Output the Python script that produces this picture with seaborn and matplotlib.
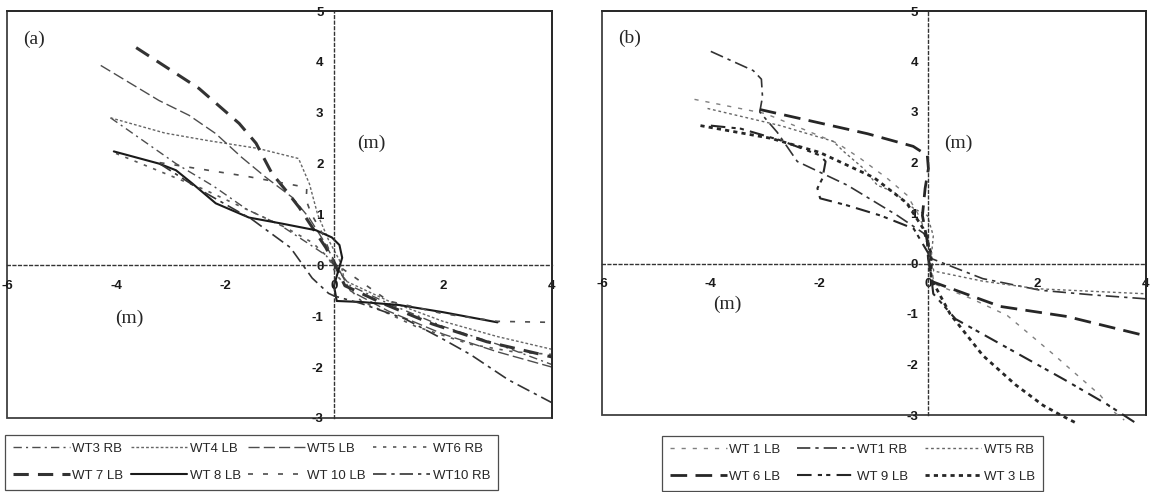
import matplotlib
matplotlib.use("Agg")
import matplotlib.pyplot as plt
import seaborn as sns

# ---- panel (a) profiles (m) ----
a_wt3rb_x = [-4.1, -3.5, -2.9, -2.2, -1.6, -1.0, -0.5, -0.15, 0.0, 0.3, 1.0, 2.0, 3.0, 4.0]
a_wt3rb_y = [2.9, 2.45, 2.0, 1.55, 1.1, 0.8, 0.45, 0.2, 0.0, -0.4, -0.75, -1.2, -1.55, -1.95]

a_wt4lb_x = [-4.1, -3.1, -2.3, -1.4, -0.65, -0.45, -0.3, -0.1, 0.1, 0.2, 1.0, 2.0, 3.0, 4.0]
a_wt4lb_y = [2.9, 2.6, 2.45, 2.3, 2.1, 1.6, 1.0, 0.5, 0.1, -0.3, -0.7, -1.1, -1.4, -1.65]

a_wt5lb_x = [-4.28, -3.21, -2.66, -2.17, -1.69, -1.25, -0.77, -0.46, -0.2, 0.0, 0.3, 1.0, 2.0, 3.0, 4.0]
a_wt5lb_y = [3.93, 3.24, 2.95, 2.59, 2.12, 1.73, 1.34, 0.94, 0.5, 0.1, -0.5, -0.9, -1.35, -1.7, -2.0]

a_wt6rb_x = [-4.0, -3.2, -2.4, -1.6, -0.9, -0.4, -0.1, 0.05, 0.5, 1.5, 2.5, 3.3, 4.0]
a_wt6rb_y = [2.2, 1.85, 1.5, 1.1, 0.75, 0.45, 0.15, -0.2, -0.7, -1.2, -1.55, -1.7, -1.75]

a_wt7lb_x = [-3.63, -2.48, -1.74, -1.43, -1.14, -0.88, -0.64, -0.4, -0.15, 0.0, 0.2, 0.9, 1.8, 2.8, 4.0]
a_wt7lb_y = [4.28, 3.48, 2.79, 2.4, 1.81, 1.47, 1.14, 0.75, 0.35, 0.05, -0.4, -0.75, -1.15, -1.5, -1.8]

a_wt8lb_x = [-4.04, -3.21, -2.9, -2.6, -2.17, -1.56, -0.95, -0.33, -0.04, 0.1, 0.15, 0.08, 0.0, 0.05, 0.5, 1.2, 2.0, 3.0]
a_wt8lb_y = [2.24, 2.0, 1.87, 1.61, 1.22, 0.94, 0.82, 0.69, 0.55, 0.4, 0.15, -0.1, -0.4, -0.7, -0.72, -0.78, -0.92, -1.12]

a_wt10lb_x = [-3.2, -1.6, -0.59, -0.5, -0.51, -0.42, -0.2, 0.0, 1.0, 2.0, 3.0, 4.0]
a_wt10lb_y = [2.02, 1.75, 1.55, 1.51, 1.28, 1.02, 0.6, 0.05, -0.7, -0.95, -1.1, -1.12]

a_wt10rb_x = [-3.2, -2.4, -1.5, -0.8, -0.6, -0.4, -0.1, 0.0, 0.5, 1.3, 2.0, 2.5, 3.2, 4.0]
a_wt10rb_y = [2.0, 1.45, 0.9, 0.35, 0.05, -0.25, -0.55, -0.6, -0.75, -1.05, -1.45, -1.75, -2.25, -2.7]

# ---- panel (b) profiles (m) ----
b_wt1lb_x = [-4.3, -3.0, -1.67, -1.25, -0.75, -0.39, -0.2, 0.0, 0.1, 0.8, 1.45, 2.3, 3.16, 3.4, 3.6]
b_wt1lb_y = [3.25, 2.97, 2.38, 2.08, 1.68, 1.35, 1.0, 0.5, -0.4, -0.7, -1.03, -1.8, -2.61, -2.93, -3.1]

b_wt1rb_x = [-4.0, -3.22, -3.07, -3.05, -3.1, -2.78, -2.41, -1.49, -0.57, -0.02, 0.05, 1.0, 2.06, 3.0, 4.0]
b_wt1rb_y = [4.2, 3.82, 3.65, 3.3, 3.0, 2.6, 2.02, 1.55, 0.95, 0.55, 0.1, -0.3, -0.53, -0.62, -0.7]

b_wt5rb_x = [-4.06, -2.72, -1.75, -1.56, -1.19, -0.94, -0.64, -0.27, -0.02, 0.09, 0.05, 0.1, 1.0, 2.0, 3.0, 4.0]
b_wt5rb_y = [3.07, 2.73, 2.42, 2.22, 1.88, 1.55, 1.42, 1.09, 0.95, 0.55, 0.1, -0.15, -0.35, -0.5, -0.55, -0.6]

b_wt6lb_x = [-3.1, -2.11, -1.12, -0.28, -0.02, 0.0, -0.06, -0.11, -0.02, 0.0, 0.07, 1.32, 2.55, 3.95]
b_wt6lb_y = [3.05, 2.81, 2.57, 2.32, 2.14, 1.88, 1.49, 0.95, 0.44, 0.1, -0.36, -0.85, -1.05, -1.42]

b_wt9lb_x = [-4.0, -3.45, -2.72, -1.99, -1.89, -1.95, -2.04, -1.99, -1.49, -0.88, -0.27, 0.0, 0.09, 0.5, 1.5, 2.5, 3.3, 3.8]
b_wt9lb_y = [2.73, 2.67, 2.44, 2.14, 2.02, 1.68, 1.49, 1.29, 1.15, 0.95, 0.69, 0.2, -0.6, -1.1, -1.7, -2.3, -2.8, -3.15]

b_wt3lb_x = [-4.19, -2.9, -2.0, -1.0, -0.4, -0.1, 0.05, 0.05, 0.4, 1.0, 1.6, 2.11, 2.43, 2.7]
b_wt3lb_y = [2.73, 2.48, 2.2, 1.7, 1.2, 0.7, 0.2, -0.3, -1.0, -1.82, -2.4, -2.81, -3.0, -3.15]

panel_a = [
    ("WT3 RB", a_wt3rb_x, a_wt3rb_y, (0, (6, 3, 1.5, 3)), 1.0, "0.3"),
    ("WT4 LB", a_wt4lb_x, a_wt4lb_y, (0, (2, 1.5)), 1.0, "0.4"),
    ("WT5 LB", a_wt5lb_x, a_wt5lb_y, (0, (8, 3)), 1.0, "0.3"),
    ("WT6 RB", a_wt6rb_x, a_wt6rb_y, (0, (2, 4)), 1.2, "0.35"),
    ("WT 7 LB", a_wt7lb_x, a_wt7lb_y, (0, (5, 3)), 2.2, "0.2"),
    ("WT 8 LB", a_wt8lb_x, a_wt8lb_y, "-", 1.5, "0.1"),
    ("WT 10 LB", a_wt10lb_x, a_wt10lb_y, (0, (3, 6)), 1.2, "0.3"),
    ("WT10 RB", a_wt10rb_x, a_wt10rb_y, (0, (8, 3, 2, 3)), 1.2, "0.2"),
]
panel_b = [
    ("WT 1 LB", b_wt1lb_x, b_wt1lb_y, (0, (3, 5)), 1.0, "0.5"),
    ("WT1 RB", b_wt1rb_x, b_wt1rb_y, (0, (8, 3, 2, 3)), 1.2, "0.2"),
    ("WT5 RB", b_wt5rb_x, b_wt5rb_y, (0, (2, 2)), 1.0, "0.4"),
    ("WT 6 LB", b_wt6lb_x, b_wt6lb_y, (0, (6, 3)), 2.0, "0.15"),
    ("WT 9 LB", b_wt9lb_x, b_wt9lb_y, (0, (7, 3, 2, 2, 2, 3)), 1.5, "0.15"),
    ("WT 3 LB", b_wt3lb_x, b_wt3lb_y, (0, (1.5, 1.5)), 2.0, "0.15"),
]

sns.set_style("white")
plt.rcParams["font.family"] = ["Liberation Sans", "DejaVu Sans"]
plt.rcParams["axes.unicode_minus"] = False

fig = plt.figure(figsize=(11.52, 4.92), dpi=100)
ax_a = fig.add_axes([7 / 1152, 1 - 418 / 492, 545 / 1152, 407 / 492])
ax_b = fig.add_axes([602 / 1152, 1 - 415 / 492, 544 / 1152, 404 / 492])

serif = ["Liberation Serif", "DejaVu Serif"]


def draw_panel(ax, series, tag, m_up, m_low, clip):
    for label, xs, ys, ls, lw, col in series:
        sns.lineplot(x=xs, y=ys, ax=ax, sort=False, estimator=None, label=label,
                     linestyle=ls, linewidth=lw, color=col, clip_on=clip, legend=False)
    ax.set_xlim(-6, 4)
    ax.set_ylim(-3, 5)
    ax.set_xticks([-6, -4, -2, 0, 2, 4])
    ax.set_yticks(range(-3, 6))
    ax.set_xticklabels([str(v) for v in [-6, -4, -2, 0, 2, 4]])
    ax.set_yticklabels([str(v) for v in range(-3, 6)])
    ax.spines["left"].set_position(("data", 0))
    ax.spines["bottom"].set_position(("data", 0))
    for s in ["left", "bottom"]:
        ax.spines[s].set_linestyle((0, (2, 2)))
        ax.spines[s].set_linewidth(1.0)
        ax.spines[s].set_color("0.2")
    for s in ["top", "right"]:
        ax.spines[s].set_linewidth(1.3)
        ax.spines[s].set_color("0.15")
    ax.patch.set_edgecolor("0.25")
    ax.patch.set_linewidth(1.3)
    ax.tick_params(direction="inout", length=3, width=0.8, labelsize=9.5, colors="0.1")
    ax.tick_params(axis="x", pad=9)
    ax.tick_params(axis="y", pad=6)
    for t in ax.get_xticklabels() + ax.get_yticklabels():
        t.set_fontweight("bold")
    ax.text(-5.7, 4.45, tag, family=serif, fontsize=14, va="center", ha="left")
    ax.text(m_up[0], m_up[1], "(m)", family=serif, fontsize=14, va="center", ha="center")
    ax.text(m_low[0], m_low[1], "(m)", family=serif, fontsize=14, va="center", ha="center")


draw_panel(ax_a, panel_a, "(a)", (0.68, 2.4), (-3.76, -1.04), True)
draw_panel(ax_b, panel_b, "(b)", (0.55, 2.38), (-3.7, -0.8), False)

leg_kw = dict(mode="expand", loc="lower left", frameon=True, fancybox=False,
              edgecolor="0.3", framealpha=1, fontsize=9.5, handlelength=4.3,
              handletextpad=0.2, columnspacing=0.5, borderaxespad=0,
              labelspacing=1.15, borderpad=0.6)


def row_order(h, l, ncol):
    # legend fills by column; reorder so entries read row by row
    nrow = len(h) // ncol
    idx = [r * ncol + c for c in range(ncol) for r in range(nrow)]
    return [h[i] for i in idx], [l[i] for i in idx]


h, l = row_order(*ax_a.get_legend_handles_labels(), 4)
la = fig.legend(h, l, ncol=4, bbox_to_anchor=(5 / 1152, 2 / 492, 493 / 1152, 58 / 492), **leg_kw)
h, l = row_order(*ax_b.get_legend_handles_labels(), 3)
lb = fig.legend(h, l, ncol=3, bbox_to_anchor=(662 / 1152, 1 / 492, 381 / 1152, 58 / 492), **leg_kw)
for lg in (la, lb):
    lg.get_frame().set_linewidth(0.9)

fig.savefig("out.png", dpi=100)
